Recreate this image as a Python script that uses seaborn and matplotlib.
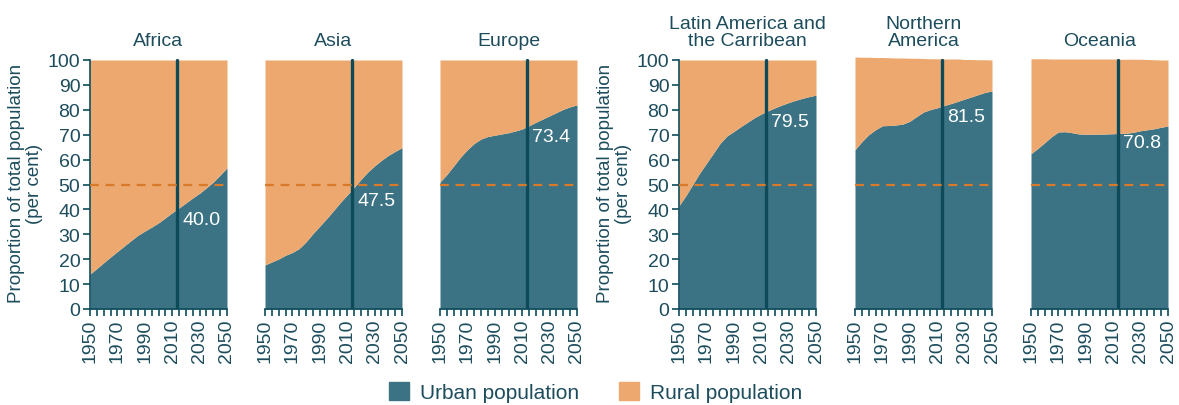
import numpy as np
import pandas as pd
import matplotlib.pyplot as plt
from matplotlib.patches import Patch
import seaborn as sns

# data (per cent, every 5 years 1950-2050)
years = list(range(1950, 2051, 5))
regions = ["Africa", "Asia", "Europe", "Latin America and\nthe Carribean",
           "Northern\nAmerica", "Oceania"]

africa_urban = [14.0, 16.3, 18.6, 20.9, 23.1, 25.3, 27.5, 29.6, 31.3, 32.9, 34.6,
                36.6, 38.7, 40.6, 42.6, 44.6, 46.5, 48.7, 51.0, 53.8, 56.7]
asia_urban = [17.7, 18.9, 20.1, 21.6, 22.7, 24.3, 27.0, 30.3, 33.3, 36.3, 39.5,
              42.8, 45.8, 48.8, 52.0, 55.0, 57.5, 59.7, 61.7, 63.3, 64.8]
europe_urban = [51.0, 54.0, 57.5, 61.0, 64.0, 66.5, 68.3, 69.3, 69.8, 70.3, 70.8,
                71.5, 72.3, 73.6, 75.0, 76.3, 77.6, 78.9, 80.2, 81.2, 82.0]
latam_urban = [41.5, 45.5, 50.0, 54.5, 58.5, 62.5, 66.5, 69.5, 71.3, 73.2, 75.0,
               76.8, 78.3, 79.6, 80.8, 81.9, 82.9, 83.8, 84.6, 85.3, 85.9]
namerica_urban = [64.0, 67.2, 70.0, 72.0, 73.6, 73.7, 73.9, 74.3, 75.4, 77.3, 79.1,
                  80.1, 80.8, 81.7, 82.5, 83.4, 84.3, 85.2, 86.1, 87.0, 87.6]
oceania_urban = [62.4, 64.5, 66.8, 69.2, 71.1, 71.2, 70.8, 70.3, 70.2, 70.2, 70.2,
                 70.3, 70.4, 70.5, 70.6, 71.0, 71.6, 72.0, 72.4, 73.0, 73.5]

# rural shares (Northern America / Oceania sum slightly above 100 in early years)
africa_rural = [100 - v for v in africa_urban]
asia_rural = [100 - v for v in asia_urban]
europe_rural = [100 - v for v in europe_urban]
latam_rural = [100 - v for v in latam_urban]
namerica_rural = [37.2, 33.9, 31.1, 29.0, 27.4, 27.2, 26.9, 26.5, 25.3, 23.4, 21.5,
                  20.4, 19.7, 18.7, 17.9, 17.0, 15.9, 15.0, 14.0, 13.1, 12.4]
oceania_rural = [38.1, 36.0, 33.7, 31.2, 29.3, 29.2, 29.6, 30.1, 30.2, 30.2, 30.2,
                 30.1, 30.0, 29.8, 29.7, 29.3, 28.7, 28.2, 27.7, 27.0, 26.5]

urban = [africa_urban, asia_urban, europe_urban, latam_urban, namerica_urban, oceania_urban]
rural = [africa_rural, asia_rural, europe_rural, latam_rural, namerica_rural, oceania_rural]
labels_2015 = [40.0, 47.5, 73.4, 79.5, 81.5, 70.8]

URBAN = "#3b7384"
RURAL = "#eca86e"
DARK = "#0d4b5b"
TEXT = "#1d4d5d"
DASH = "#d97a2a"

sns.set_theme(style="white")
plt.rcParams["font.family"] = ["Liberation Sans", "DejaVu Sans"]
plt.rcParams["text.color"] = TEXT
plt.rcParams["axes.labelcolor"] = TEXT
plt.rcParams["xtick.color"] = TEXT
plt.rcParams["ytick.color"] = TEXT

fig = plt.figure(figsize=(11.79, 4.06), dpi=100)

lefts = [90, 265, 440, 679, 855, 1031]
W, H = 1179, 406
ybot = 310
ytop = 61 - 1.5 * 2.49

for i, name in enumerate(regions):
    ax = fig.add_axes([lefts[i] / W, 1 - ybot / H, 137 / W, (ybot - ytop) / H])
    df = pd.DataFrame({"year": years, "urban": urban[i], "rural": rural[i]})
    ax.stackplot(df["year"], df["urban"], df["rural"], colors=[URBAN, RURAL],
                 linewidth=0)
    ax.axvline(2013.7, ymin=0, ymax=100 / 101.5, color=DARK, lw=2.4, zorder=3)
    sns.lineplot(x=[1950, 2050], y=[50, 50], ax=ax, color=DASH, lw=1.6,
                 dashes=False, zorder=4)
    ax.lines[-1].set_dashes([4, 3])
    ax.text(2017.3, labels_2015[i] - 0.6, f"{labels_2015[i]:.1f}", color="white",
            fontsize=14, ha="left", va="top", zorder=5)

    ax.set_xlim(1950, 2050)
    ax.set_ylim(0, 101.5)
    ax.set_xticks(range(1950, 2051, 20))
    ax.set_xticks(range(1950, 2051, 5), minor=True)
    ax.tick_params(axis="x", which="both", bottom=True, length=5, width=1.2,
                   color=DARK, labelsize=14, labelrotation=90, pad=2)
    for s in ["top", "right"]:
        ax.spines[s].set_visible(False)
    ax.spines["bottom"].set_color(DARK)
    ax.spines["bottom"].set_linewidth(1.2)
    ax.set_title(name, fontsize=14, color=TEXT, pad=8, linespacing=1.05)

    if i in (0, 3):
        ax.set_yticks(range(0, 101, 10))
        ax.spines["left"].set_color(DARK)
        ax.spines["left"].set_linewidth(1.2)
        ax.spines["left"].set_bounds(0, 100)
        ax.tick_params(axis="y", left=True, length=5, width=1.2, color=DARK,
                       labelsize=14, pad=2)
        ax.set_ylabel("Proportion of total population\n(per cent)", fontsize=13.5,
                      labelpad=3, linespacing=1.1)
    else:
        ax.set_yticks([])
        ax.spines["left"].set_visible(False)
    ax.grid(False)

handles = [Patch(color=URBAN, label="Urban population"),
           Patch(color=RURAL, label="Rural population")]
fig.legend(handles=handles, loc="center", bbox_to_anchor=(0.505, 0.032), ncol=2,
           frameon=False, fontsize=15, handlelength=1.0, handleheight=1.0,
           columnspacing=1.9, handletextpad=0.5)

fig.savefig("out.png", dpi=100)
